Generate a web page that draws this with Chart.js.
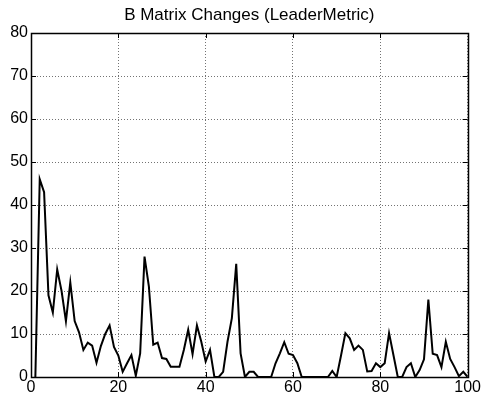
<!DOCTYPE html>
<html>
<head>
<meta charset="utf-8">
<script src="https://cdn.jsdelivr.net/npm/chart.js@4/dist/chart.umd.min.js"></script>
<style>
html,body{margin:0;padding:0;background:#fff;}
#wrap{width:482px;height:400px;position:relative;}
</style>
</head>
<body>
<div id="wrap"><canvas id="c" width="482" height="400"></canvas></div>
<script>
const titleText = "B Matrix Changes (LeaderMetric)";
const xValues = [1,2,3,4,5,6,7,8,9,10,11,12,13,14,15,16,17,18,19,20,
  21,22,23,24,25,26,27,28,29,30,31,32,33,34,35,36,37,38,39,40,
  41,42,43,44,45,46,47,48,49,50,51,52,53,54,55,56,57,58,59,60,
  61,62,63,64,65,66,67,68,69,70,71,72,73,74,75,76,77,78,79,80,
  81,82,83,84,85,86,87,88,89,90,91,92,93,94,95,96,97,98,99,100];
const changes = [0,46,43,19,15,25,20,13,22,13,10.4,6.3,8,7.3,3.3,7.2,10,12,7,5,
  1.2,3.2,5.1,0.3,5.5,28,21,7.5,8,4.4,4.2,2.4,2.4,2.4,6.3,11,5.3,12,8.2,3.6,
  6.3,0,0,1.2,8.2,13.7,26.3,5.5,0,1.2,1.2,0,0,0,0,3.2,5.5,8.1,5.4,5.1,
  3.2,0,0,0,0,0,0,0,1.4,0,5,10.2,9,6.3,7.3,6.3,1.3,1.4,3.2,2.3,
  3.2,10.2,5.1,0,0,2.3,3.2,0,1.6,4.1,18,5.4,5.1,2.3,8.2,4.2,2.3,0.2,1.2,0];
const xTicks = [0,20,40,60,80,100];
const yTicks = [0,10,20,30,40,50,60,70,80];

const points = xValues.map((x,i)=>({x:x,y:changes[i]}));

const framePlugin = {
  id:'frame',
  afterDatasetsDraw(chart){
    const {ctx, chartArea:a, scales} = chart;
    ctx.save();
    ctx.strokeStyle='#000';
    ctx.lineWidth=1;
    ctx.beginPath();
    const tl=5;
    xTicks.forEach(v=>{
      const px=Math.round(scales.x.getPixelForValue(v))+0.5;
      ctx.moveTo(px,a.bottom); ctx.lineTo(px,a.bottom-tl);
      ctx.moveTo(px,a.top); ctx.lineTo(px,a.top+tl);
    });
    yTicks.forEach(v=>{
      const py=Math.round(scales.y.getPixelForValue(v))+0.5;
      ctx.moveTo(a.left,py); ctx.lineTo(a.left+tl,py);
      ctx.moveTo(a.right,py); ctx.lineTo(a.right-tl,py);
    });
    ctx.stroke();
    ctx.lineWidth=1.5;
    ctx.strokeRect(Math.round(a.left)+0.5, Math.round(a.top)+0.5, Math.round(a.right-a.left), Math.round(a.bottom-a.top));
    // title centred over the axes
    ctx.fillStyle='#000';
    ctx.font='17px "Liberation Sans", Arial, sans-serif';
    ctx.textAlign='center';
    ctx.textBaseline='middle';
    ctx.fillText(titleText,(a.left+a.right)/2,15);
    ctx.restore();
  }
};

new Chart(document.getElementById('c'), {
  type:'line',
  data:{datasets:[{
    data:points,
    borderColor:'#000',
    borderWidth:2,
    pointRadius:0,
    tension:0,
    fill:false
  }]},
  plugins:[framePlugin],
  options:{
    responsive:false,
    animation:false,
    events:[],
    layout:{padding:{left:0,right:14,top:33,bottom:0}},
    plugins:{
      legend:{display:false},
      tooltip:{enabled:false},
      title:{display:false}
    },
    scales:{
      x:{type:'linear',min:0,max:100,
        afterBuildTicks(s){s.ticks=xTicks.map(v=>({value:v}));},
        afterFit(s){s.height=23;},
        grid:{color:'rgba(0,0,0,0.55)',drawTicks:false},
        border:{display:false,dash:[1,2]},
        ticks:{color:'#000',padding:1,maxRotation:0,
          font:{family:'"Liberation Sans", Arial, sans-serif',size:16}}
      },
      y:{type:'linear',min:0,max:80,
        afterBuildTicks(s){s.ticks=yTicks.map(v=>({value:v}));},
        afterFit(s){s.width=31;},
        grid:{color:'rgba(0,0,0,0.55)',drawTicks:false},
        border:{display:false,dash:[1,2]},
        ticks:{color:'#000',padding:3,
          font:{family:'"Liberation Sans", Arial, sans-serif',size:16}}
      }
    }
  }
});
</script>
</body>
</html>
